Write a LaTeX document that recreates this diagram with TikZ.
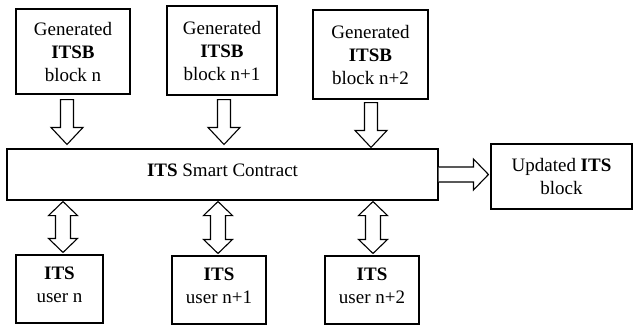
\documentclass[tikz,border=0pt]{standalone}
\usepackage{fontspec}
\setmainfont{Liberation Serif}
\usetikzlibrary{calc}

% hollow block arrow pointing down: #1 = middle of the shaft top, #2 = tip
\newcommand\blockdown[2]{%
  \draw[blk] let \p1=(#1), \p2=(#2) in
    (\x1-6.5pt,\y1) -- (\x1+6.5pt,\y1) -- (\x1+6.5pt,\y2+17pt) -- (\x1+16pt,\y2+17pt)
    -- (\x1,\y2) -- (\x1-16pt,\y2+17pt) -- (\x1-6.5pt,\y2+17pt) -- cycle;}
% hollow double-headed vertical arrow: #1 = upper tip, #2 = lower tip
\newcommand\blockupdown[2]{%
  \draw[blk] let \p1=(#1), \p2=(#2) in
    (\x1,\y1) -- (\x1+14.5pt,\y1-14pt) -- (\x1+7.5pt,\y1-14pt) -- (\x1+7.5pt,\y2+14pt)
    -- (\x1+14.5pt,\y2+14pt) -- (\x1,\y2) -- (\x1-14.5pt,\y2+14pt) -- (\x1-7.5pt,\y2+14pt)
    -- (\x1-7.5pt,\y1-14pt) -- (\x1-14.5pt,\y1-14pt) -- cycle;}
% hollow block arrow pointing right: #1 = middle of the shaft start, #2 = tip
\newcommand\blockright[2]{%
  \draw[blk] let \p1=(#1), \p2=(#2) in
    (\x1,\y1+7.5pt) -- (\x2-15pt,\y1+7.5pt) -- (\x2-15pt,\y1+15.5pt) -- (\x2,\y1)
    -- (\x2-15pt,\y1-15.5pt) -- (\x2-15pt,\y1-7.5pt) -- (\x1,\y1-7.5pt);}

\begin{document}
\begin{tikzpicture}[x=1pt,y=-1pt,
  font=\fontsize{19}{23}\selectfont,
  box/.style={draw, line width=1.1pt, align=center, inner sep=0pt},
  txt/.style={align=center, inner sep=0pt},
  blk/.style={draw, line width=1.1pt, fill=white, line join=miter}]
\useasboundingbox (0,0) rectangle (634,325);

% generated blocks
\node[box, minimum width=114pt, minimum height=85pt] (g1) at (73,51.5)
  {Generated\\\textbf{ITSB}\\block n};
\node[box, minimum width=110pt, minimum height=89pt] (g2) at (222,50.5)
  {Generated\\\textbf{ITSB}\\block n+1};
\node[box, minimum width=115pt, minimum height=89pt] (g3) at (370.5,54.5)
  {Generated\\\textbf{ITSB}\\block n+2};

% smart contract
\node[box, minimum width=431pt, minimum height=51pt] (sc) at (222.5,174.5) {};
\node[txt] (sct) at ($(sc.center)+(0,-4)$) {\textbf{ITS} Smart Contract};

% updated block
\node[box, minimum width=141pt, minimum height=65pt] (up) at (561.5,176.5)
  {Updated \textbf{ITS}\\block};

% users
\node[box, minimum width=87pt, minimum height=68pt] (u1) at (59.5,289) {};
\node[box, minimum width=94pt, minimum height=68pt] (u2) at (219,290) {};
\node[box, minimum width=94pt, minimum height=68pt] (u3) at (372,290) {};
\node[txt] (u1t) at ($(u1.center)+(0,-4)$) {\textbf{ITS}\\user n};
\node[txt] (u2t) at ($(u2.center)+(0,-4)$) {\textbf{ITS}\\user n+1};
\node[txt] (u3t) at ($(u3.center)+(0,-4)$) {\textbf{ITS}\\user n+2};

% arrows into the contract
\blockdown{$(g1.south)+(-6,5)$}{$(g1.south |- sc.north)+(-6,-4)$}
\blockdown{$(g2.south)+(2,4)$}{$(g2.south |- sc.north)+(2,-4)$}
\blockdown{$(g3.south)+(0.5,3)$}{$(g3.south |- sc.north)+(0.5,-1)$}

% arrows between contract and users
\blockupdown{$(u1.north |- sc.south)+(3.5,1)$}{$(u1.north)+(3.5,-2)$}
\blockupdown{$(u2.north |- sc.south)+(-1,1)$}{$(u2.north)+(-1,-2)$}
\blockupdown{$(u3.north |- sc.south)+(1,1)$}{$(u3.north)+(1,-2)$}

% arrow to the updated block
\blockright{sc.east}{$(up.west |- sc.east)+(-2,0)$}
\end{tikzpicture}
\end{document}
